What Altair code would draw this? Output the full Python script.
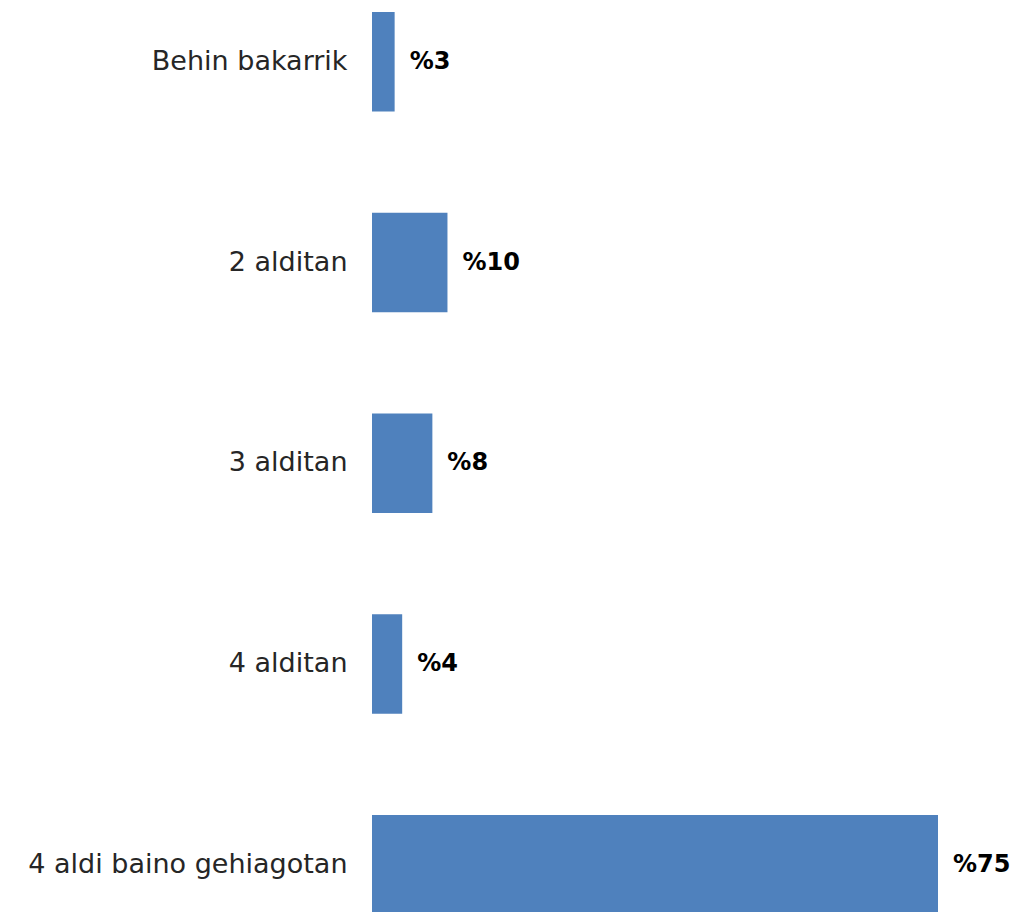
import altair as alt
import pandas as pd

categories = ["Behin bakarrik", "2 alditan", "3 alditan", "4 alditan", "4 aldi baino gehiagotan"]
values = [3, 10, 8, 4, 75]
labels = ["%3", "%10", "%8", "%4", "%75"]

df = pd.DataFrame({"cat": categories, "val": values, "lab": labels})

FONT = "DejaVu Sans"

y_enc = alt.Y(
    "cat:N",
    sort=categories,
    scale=alt.Scale(range=[0, 910.6], paddingInner=0.504, paddingOuter=0.02),
    axis=alt.Axis(
        title=None, ticks=False, tickSize=0, domain=False, grid=False,
        labelPadding=25, labelFont=FONT, labelFontSize=27, labelColor="#262626",
        labelLimit=600,
    ),
)
x_enc = alt.X("val:Q", scale=alt.Scale(domain=[0, 75], nice=False), axis=None)

bars = alt.Chart(df).mark_bar(color="#4F81BD").encode(x=x_enc, y=y_enc)
text = alt.Chart(df).mark_text(
    align="left", baseline="middle", dx=15, font=FONT, fontSize=24,
    fontWeight="bold", color="#000000",
).encode(x=x_enc, y=y_enc, text="lab:N")

chart = (bars + text).properties(
    width=566, height=904,
    autosize=alt.AutoSizeParams(type="none"),
    padding={"left": 364, "top": 0, "right": 74, "bottom": 0},
).configure_view(stroke=None)

chart.save("out.html", embed_options={"renderer": "svg", "actions": False})
